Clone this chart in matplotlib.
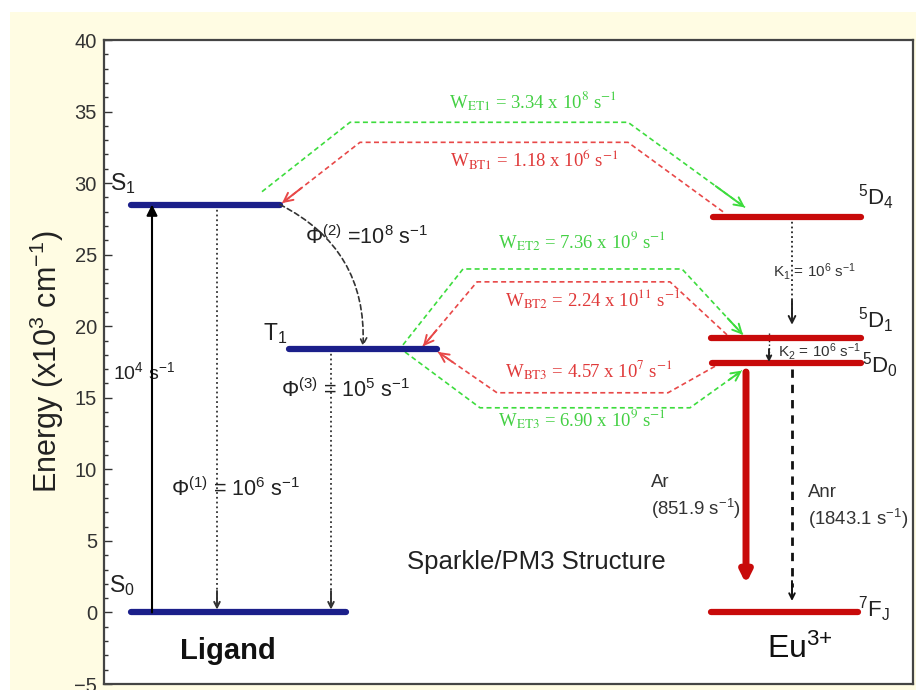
import matplotlib
matplotlib.use("Agg")
import matplotlib.pyplot as plt
from matplotlib.patches import Rectangle
from matplotlib.ticker import MultipleLocator

plt.rcParams['font.family'] = ['Liberation Sans', 'DejaVu Sans']
plt.rcParams['mathtext.fontset'] = 'custom'
plt.rcParams['mathtext.rm'] = 'Liberation Sans'
plt.rcParams['mathtext.it'] = 'Liberation Sans:italic'
plt.rcParams['mathtext.bf'] = 'Liberation Sans:bold'

# ---- level energies (x10^3 cm^-1) ----
ligand_levels = ["S$_0$", "S$_1$", "T$_1$"]
ligand_energy = [0.0, 28.5, 18.4]
eu_levels = ["$^7$F$_\\mathrm{J}$", "$^5$D$_0$", "$^5$D$_1$", "$^5$D$_4$"]
eu_energy = [0.0, 17.4, 19.2, 27.6]

# ---- rates ----
rate_absorption = "10$^4$ s$^{-1}$"
rate_phi = ["Φ$^{(1)}$ = 10$^6$ s$^{-1}$", "Φ$^{(2)}$ =10$^8$ s$^{-1}$",
            "Φ$^{(3)}$ = 10$^5$ s$^{-1}$"]
rate_et = ["W$_{\\mathrm{ET1}}$ = 3.34 x 10$^8$ s$^{-1}$",
           "W$_{\\mathrm{ET2}}$ = 7.36 x 10$^9$ s$^{-1}$",
           "W$_{\\mathrm{ET3}}$ = 6.90 x 10$^9$ s$^{-1}$"]
rate_bt = ["W$_{\\mathrm{BT1}}$ = 1.18 x 10$^6$ s$^{-1}$",
           "W$_{\\mathrm{BT2}}$ = 2.24 x 10$^{11}$ s$^{-1}$",
           "W$_{\\mathrm{BT3}}$ = 4.57 x 10$^7$ s$^{-1}$"]
rate_k = ["K$_1$ = 10$^6$ s$^{-1}$", "K$_2$ = 10$^6$ s$^{-1}$"]
rate_ar = 851.9
rate_anr = 1843.1

S0, S1, T1 = ligand_energy
F7, D0, D1, D4 = eu_energy

BLUE = "#1b1f8a"
RED = "#c80a0a"
GREEN = "#3ddc3d"
LRED = "#e84848"
GTXT = "#44d044"
RTXT = "#e03a3a"

fig = plt.figure(figsize=(9.16, 6.9), dpi=100, facecolor="white")
fig.patches.append(Rectangle((10 / 916, 0), 1, 1 - 12 / 690, transform=fig.transFigure,
                             facecolor="#fffce3", edgecolor="none", zorder=-10))
ax = fig.add_axes([104 / 916, 1 - 684 / 690, (913 - 104) / 916, (684 - 40) / 690])
ax.set_facecolor("white")
ax.set_xlim(104, 913)
ax.set_ylim(-5, 40)
ax.set_xticks([])
ax.yaxis.set_major_locator(MultipleLocator(5))
ax.yaxis.set_minor_locator(MultipleLocator(1))
ax.tick_params(axis='y', which='major', direction='in', length=6, width=1, colors='#333333',
               labelsize=14.5, pad=5)
ax.tick_params(axis='y', which='minor', direction='in', length=3, width=1, color='#333333')
for s in ax.spines.values():
    s.set_color('#444444')
    s.set_linewidth(1.6)
ax.set_ylabel("Energy (x10$^3$ cm$^{-1}$)", fontsize=22, color="#222222", labelpad=6)

# ---- energy levels ----
lvl_kw = dict(lw=4.5, solid_capstyle='round', zorder=3)
ax.plot([131, 346], [S0, S0], color=BLUE, **lvl_kw)
ax.plot([131, 280], [S1, S1], color=BLUE, **lvl_kw)
ax.plot([289, 437], [T1, T1], color=BLUE, **lvl_kw)
ax.plot([711, 858], [F7, F7], color=RED, **lvl_kw)
ax.plot([712, 861], [D0, D0], color=RED, **lvl_kw)
ax.plot([711, 861], [D1, D1], color=RED, **lvl_kw)
ax.plot([713, 861], [D4, D4], color=RED, **lvl_kw)


def arrow(x0, y0, x1, y1, color='black', ls='-', lw=1.2, style='->', ms=10):
    ax.annotate("", xy=(x1, y1), xytext=(x0, y0),
                arrowprops=dict(arrowstyle=style, color=color, lw=lw, ls=ls,
                                mutation_scale=ms, shrinkA=0, shrinkB=0),
                zorder=4)


def head(x0, y0, x1, y1, color, ms=14):
    ax.annotate("", xy=(x1, y1), xytext=(x0, y0),
                arrowprops=dict(arrowstyle='->', color=color, lw=1.4,
                                mutation_scale=ms, shrinkA=0, shrinkB=0),
                zorder=5)


# absorption S0 -> S1
arrow(152, S0, 152, S1, lw=1.5, style='-|>', ms=16)
# decays within the ligand
ax.plot([217, 217], [S1, 0.7], color='#333333', ls=':', lw=1.3)
head(217, 1.5, 217, S0 + 0.2, '#333333', ms=10)
ax.plot([331, 331], [T1, 0.7], color='#333333', ls=':', lw=1.3)
head(331, 1.5, 331, S0 + 0.2, '#333333', ms=10)
# intersystem crossing S1 -> T1
ax.annotate("", xy=(363, T1 + 0.2), xytext=(280, S1),
            arrowprops=dict(arrowstyle='->', color='#333333', lw=1.2, ls=(0, (3, 2)),
                            connectionstyle="arc3,rad=-0.32", mutation_scale=12,
                            shrinkA=0, shrinkB=0), zorder=4)


def path(xs, ys, color):
    ax.plot(xs, ys, color=color, lw=1.2, ls=(0, (3, 2)), zorder=2)
    dx, dy = xs[-1] - xs[-2], ys[-1] - ys[-2]
    head(xs[-1] - 0.25 * dx, ys[-1] - 0.25 * dy, xs[-1], ys[-1], color, ms=16)


# energy transfer (green) and back transfer (red)
path([262, 350, 628, 745], [29.4, 34.25, 34.25, 28.3], GREEN)
path([723, 628, 360, 282], [28.0, 32.85, 32.85, 28.6], LRED)
path([403, 463, 682, 743], [18.7, 24.0, 24.0, 19.4], GREEN)
path([727, 670, 477, 423], [19.4, 23.1, 23.1, 18.6], LRED)
path([715, 668, 497, 438], [17.2, 15.35, 15.35, 18.2], LRED)
path([405, 480, 690, 742], [18.2, 14.3, 14.3, 16.9], GREEN)

# Eu3+ internal relaxation
ax.plot([792, 792], [D4, D1 + 1.6], color='#222222', ls=':', lw=1.3)
head(792, D1 + 2.6, 792, D1 + 0.9, '#222222', ms=12)
ax.plot([769, 769], [D1 + 0.3, D0 + 0.3], color='#222222', ls=':', lw=1.0)
head(769, D0 + 1.0, 769, D0 + 0.1, '#222222', ms=8)
# radiative and non-radiative emission from 5D0
arrow(746, D0 - 0.6, 746, 2.0, color=RED, lw=5, style='-|>', ms=16)
ax.plot([792, 792], [D0 - 0.4, 1.8], color='#111111', ls=(0, (3, 2.5)), lw=2)
head(792, 2.2, 792, 0.8, '#111111', ms=10)

# ---- labels ----
lab = dict(fontsize=16.5, color='#222222', va='center')
ax.text(110, 30.0, ligand_levels[1], **lab)
ax.text(263, 19.5, ligand_levels[2], **lab)
ax.text(109, 1.9, ligand_levels[0], **lab)
lab_eu = dict(fontsize=16, color='#222222', va='center')
ax.text(858, 29.0, eu_levels[3], **lab_eu)
ax.text(858, 20.4, eu_levels[2], **lab_eu)
ax.text(862, 17.3, eu_levels[1], **lab_eu)
ax.text(858, 0.2, eu_levels[0], **lab_eu)

rk = dict(fontsize=15.5, color='#222222', va='center')
ax.text(113, 16.8, rate_absorption, fontsize=14, color='#222222', va='center')
ax.text(171, 8.6, rate_phi[0], **rk)
ax.text(305, 26.2, rate_phi[1], **rk)
ax.text(281, 15.55, rate_phi[2], **rk)

wk = dict(fontsize=13.5, va='center', family='Liberation Serif', math_fontfamily='stix')
ax.text(449, 35.7, rate_et[0], color=GTXT, **wk)
ax.text(450, 31.6, rate_bt[0], color=RTXT, **wk)
ax.text(498, 25.96, rate_et[1], color=GTXT, **wk)
ax.text(505, 21.9, rate_bt[1], color=RTXT, **wk)
ax.text(505, 16.9, rate_bt[2], color=RTXT, **wk)
ax.text(498, 13.5, rate_et[2], color=GTXT, **wk)

ax.text(773, 23.8, rate_k[0], fontsize=11, color='#333333', va='center')
ax.text(778, 18.2, rate_k[1], fontsize=11, color='#333333', va='center')

ak = dict(fontsize=13.4, color='#333333', va='center')
ax.text(651, 9.1, "Ar", **ak)
ax.text(651, 7.2, f"({rate_ar} s$^{{-1}}$)", **ak)
ax.text(808, 8.4, "Anr", **ak)
ax.text(808, 6.5, f"({rate_anr} s$^{{-1}}$)", **ak)

ax.text(407, 3.5, "Sparkle/PM3 Structure", fontsize=18.5, color='#222222', va='center')
ax.text(228, -2.7, "Ligand", fontsize=21, fontweight='bold', color='#111111',
        ha='center', va='center')
ax.text(800, -2.6, "Eu$^{3{+}}$", fontsize=23, color='#111111', ha='center', va='center')

fig.savefig("out.png", dpi=100, facecolor=fig.get_facecolor())
